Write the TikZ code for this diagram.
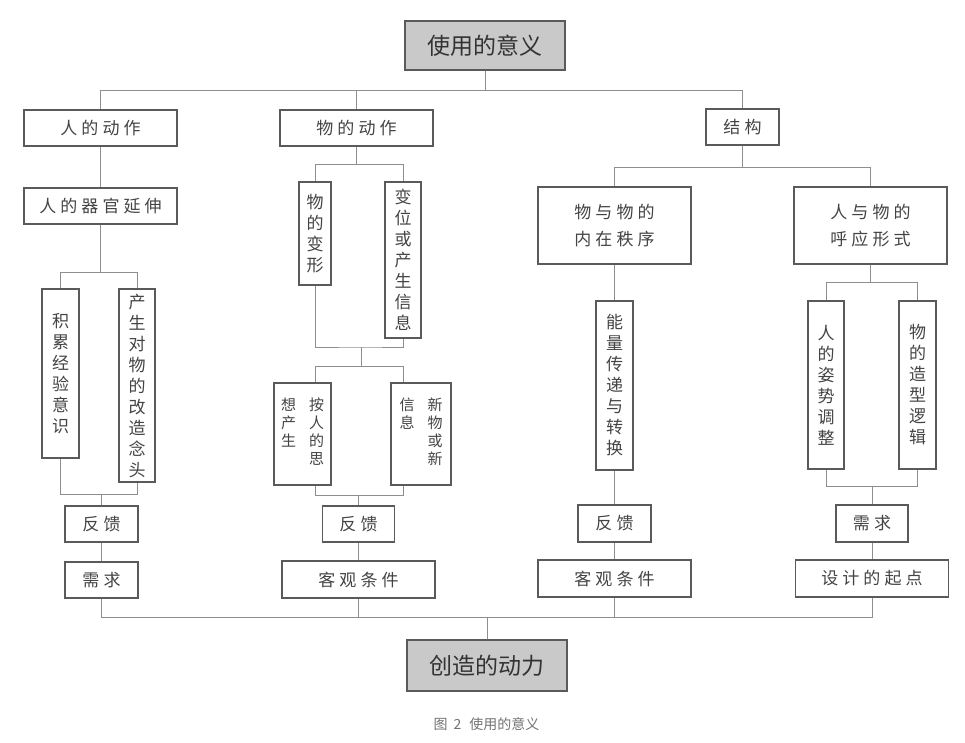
\documentclass[tikz,border=0pt]{standalone}
\usepackage{fontspec}
\usetikzlibrary{positioning,calc}
\newfontfamily\cjk{Noto Sans CJK SC}
\newfontfamily\cjkwide[LetterSpace=24]{Noto Sans CJK SC}
\definecolor{ink}{HTML}{444444}
\definecolor{edge}{HTML}{5A5A5A}
\definecolor{wire}{HTML}{8E8E8E}
\definecolor{shade}{HTML}{C9C9C9}
\newcommand\vcol[1]{\begin{tabular}[t]{@{}c@{}}#1\end{tabular}}
\begin{document}
\begin{tikzpicture}[x=1pt,y=-1pt,
 box/.style={draw=edge,line width=1.1pt,fill=white,inner sep=0pt,text=ink,align=center,
 font=\cjkwide\fontsize{17}{27}\selectfont},
 vbox/.style={box,font=\cjk\fontsize{17}{21}\selectfont},
 pbox/.style={box,font=\cjk\fontsize{15}{18}\selectfont},
 hub/.style={draw=edge,line width=1.1pt,fill=shade,inner sep=0pt,text=black!80,
 font=\cjk\fontsize{23}{27}\selectfont},
 wirel/.style={draw=wire,line width=0.8pt}]
\useasboundingbox (0,0) rectangle (965,742);
\node[hub,minimum width=160pt,minimum height=49pt] (use) at (485,45.5) {使用的意义};
\node[box,minimum width=153pt,minimum height=36pt] (man) at (100.5,128) {人的动作};
\node[box,minimum width=153pt,minimum height=36pt] (thing) at (356.5,128) {物的动作};
\node[box,minimum width=73pt,minimum height=36pt] (struct) at (742.5,127) {结构};
\node[box,minimum width=153pt,minimum height=36pt] (organ) at (100.5,206) {人的器官延伸};
\node[vbox,minimum width=37pt,minimum height=169pt] (accum) at (60.5,373.5) {积\\累\\经\\验\\意\\识};
\node[vbox,minimum width=36pt,minimum height=193pt] (remake) at (137,385.5) {产\\生\\对\\物\\的\\改\\造\\念\\头};
\node[box,minimum width=73pt,minimum height=36pt] (fb1) at (101.5,524) {反馈};
\node[box,minimum width=73pt,minimum height=36pt] (need1) at (101.5,580) {需求};
\node[vbox,minimum width=32pt,minimum height=103pt] (deform) at (315,233.5) {物\\的\\变\\形};
\node[vbox,minimum width=36pt,minimum height=156pt] (shift) at (403,260) {变\\位\\或\\产\\生\\信\\息};
\node[pbox,minimum width=57pt,minimum height=102pt] (think) at (302.5,434) {\vcol{想\\产\\生}\hspace{13pt}\vcol{按\\人\\的\\思}};
\node[pbox,minimum width=60pt,minimum height=102pt] (newinfo) at (421,434) {\vcol{信\\息}\hspace{13pt}\vcol{新\\物\\或\\新}};
\node[box,minimum width=72pt,minimum height=36pt] (fb2) at (358.5,524) {反馈};
\node[box,minimum width=153pt,minimum height=37pt] (cond2) at (358.5,579.5) {客观条件};
\node[box,minimum width=153pt,minimum height=77pt] (order) at (614.5,225.5) {物与物的\\内在秩序};
\node[box,minimum width=153pt,minimum height=77pt] (resp) at (870.5,225.5) {人与物的\\呼应形式};
\node[vbox,minimum width=37pt,minimum height=169pt] (energy) at (614.5,385.5) {能\\量\\传\\递\\与\\转\\换};
\node[box,minimum width=73pt,minimum height=37pt] (fb3) at (614.5,523.5) {反馈};
\node[box,minimum width=153pt,minimum height=37pt] (cond3) at (614.5,578.5) {客观条件};
\node[vbox,minimum width=36pt,minimum height=168pt] (pose) at (826,385) {人\\的\\姿\\势\\调\\整};
\node[vbox,minimum width=37pt,minimum height=168pt] (logic) at (917.5,385) {物\\的\\造\\型\\逻\\辑};
\node[box,minimum width=72pt,minimum height=37pt] (need4) at (872,523.5) {需求};
\node[box,minimum width=153pt,minimum height=37pt] (origin) at (872,578.5) {设计的起点};
\node[hub,minimum width=160pt,minimum height=51pt] (power) at (487,665.5) {创造的动力};
\node[text=black!55,font=\cjk\fontsize{14}{16}\selectfont] (cap) at (486.5,724) {图\hspace{6pt}2\hspace{8pt}使用的意义};
\foreach \a/\b/\d in {use/man/20,use/thing/20,use/struct/20,organ/accum/48,organ/remake/48,
 thing/deform/18,thing/shift/18,struct/order/22,struct/resp/22,resp/pose/18,resp/logic/18}
 \draw[wirel] (\a.south) -- ++(0,\d) -| (\b.north);
\foreach \a/\b in {man/organ,fb1/need1,fb2/cond2,order/energy,energy/fb3,fb3/cond3,need4/origin}
 \draw[wirel] (\a.south) -- (\b.north);
\foreach \a/\b/\d in {fb1/accum/11,fb1/remake/11,need4/pose/18,need4/logic/18,
 power/need1/22,power/cond2/22,power/cond3/22,power/origin/22}
 \draw[wirel] (\a.north) -- ++(0,-\d) -| (\b.south);
\coordinate (knot) at (361,347);
\coordinate (knot2) at (361,366);
\draw[wirel] (deform.south) |- (knot) -| (shift.south);
\draw[wirel] (knot) -- (knot2);
\draw[wirel] (knot2) -| (think.north -| deform.south);
\draw[wirel] (knot2) -| (newinfo.north -| shift.south);
\draw[wirel] (fb2.north) -- ++(0,-10) -| (think.south -| deform.south);
\draw[wirel] (fb2.north) -- ++(0,-10) -| (newinfo.south -| shift.south);
\end{tikzpicture}
\end{document}
